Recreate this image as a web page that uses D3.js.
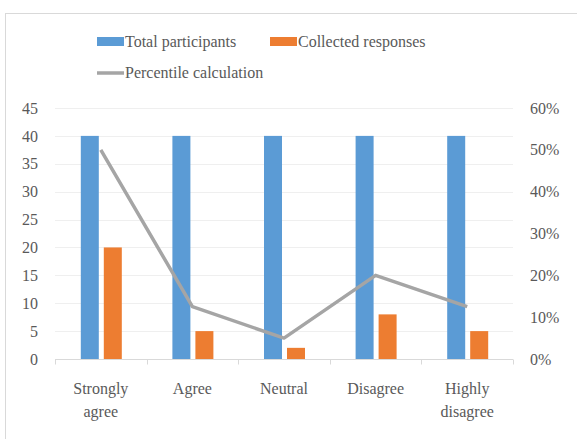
<!DOCTYPE html>
<html>
<head>
<meta charset="utf-8">
<script src="https://cdn.jsdelivr.net/npm/d3@7"></script>
<style>
  body { margin: 0; background: #fff; }
</style>
</head>
<body>
<div id="chart"></div>
<script>
// 数据
const categories = ['Strongly agree', 'Agree', 'Neutral', 'Disagree', 'Highly disagree'];
const categoryLines = [['Strongly', 'agree'], ['Agree'], ['Neutral'], ['Disagree'], ['Highly', 'disagree']];
const totalParticipants = [40, 40, 40, 40, 40];
const collectedResponses = [20, 5, 2, 8, 5];
const percentile = [0.5, 0.125, 0.05, 0.2, 0.125];
const leftTicks = [0, 5, 10, 15, 20, 25, 30, 35, 40, 45];
const rightTicks = [0, 0.1, 0.2, 0.3, 0.4, 0.5, 0.6];

const width = 577, height = 439;
const margin = {top: 108, right: 64, bottom: 80, left: 55};
const fontFamily = "Liberation Serif, DejaVu Serif, serif";

const svg = d3.select('#chart')
    .append('svg')
    .attr('width', width)
    .attr('height', height)
    .attr('font-family', fontFamily);

// 外框
svg.append('rect')
    .attr('x', 5.5).attr('y', 13.5)
    .attr('width', width - 5).attr('height', height - 13)
    .attr('fill', '#fff')
    .attr('stroke', '#d9d9d9');

const x = d3.scaleBand()
    .domain(categories)
    .range([margin.left, width - margin.right]);
const yLeft = d3.scaleLinear().domain([0, 45]).range([height - margin.bottom, margin.top]);
const yRight = d3.scaleLinear().domain([0, 0.6]).range([height - margin.bottom, margin.top]);

// 网格线
svg.append('g')
    .selectAll('line')
    .data(leftTicks.slice(1))
    .enter()
    .append('line')
    .attr('x1', margin.left).attr('x2', width - margin.right)
    .attr('y1', d => Math.round(yLeft(d)) + 0.5)
    .attr('y2', d => Math.round(yLeft(d)) + 0.5)
    .attr('stroke', '#efefef');

// 轴文字样式
const styleAxis = (g) => {
    g.attr('font-family', fontFamily).attr('font-size', 16);
    g.select('.domain').remove();
    g.selectAll('text').attr('fill', '#595959');
};

// 左轴
svg.append('g')
    .attr('transform', `translate(${margin.left - 17},0)`)
    .call(d3.axisLeft(yLeft).tickValues(leftTicks).tickSize(0).tickPadding(0))
    .call(styleAxis);

// 右轴
svg.append('g')
    .attr('transform', `translate(${width - margin.right + 17},0)`)
    .call(d3.axisRight(yRight).tickValues(rightTicks).tickFormat(d3.format('.0%')).tickSize(0).tickPadding(0))
    .call(styleAxis);

// 柱子
const barW = 18;
const bars = svg.append('g');
bars.selectAll('rect.total')
    .data(categories)
    .enter()
    .append('rect')
    .attr('class', 'total')
    .attr('x', d => x(d) + x.bandwidth() / 2 - barW - 2)
    .attr('width', barW)
    .attr('y', (d, i) => yLeft(totalParticipants[i]))
    .attr('height', (d, i) => yLeft(0) - yLeft(totalParticipants[i]))
    .attr('fill', '#5b9bd5');
bars.selectAll('rect.collected')
    .data(categories)
    .enter()
    .append('rect')
    .attr('class', 'collected')
    .attr('x', d => x(d) + x.bandwidth() / 2 + 3)
    .attr('width', barW)
    .attr('y', (d, i) => yLeft(collectedResponses[i]))
    .attr('height', (d, i) => yLeft(0) - yLeft(collectedResponses[i]))
    .attr('fill', '#ed7d31');

// 类别轴
const axisY = Math.round(yLeft(0)) + 0.5;
svg.append('line')
    .attr('x1', margin.left).attr('x2', width - margin.right)
    .attr('y1', axisY).attr('y2', axisY)
    .attr('stroke', '#d9d9d9');
svg.append('g')
    .selectAll('line')
    .data(categories.concat(['end']))
    .enter()
    .append('line')
    .attr('x1', (d, i) => Math.round(margin.left + i * x.bandwidth()) + 0.5)
    .attr('x2', (d, i) => Math.round(margin.left + i * x.bandwidth()) + 0.5)
    .attr('y1', axisY).attr('y2', axisY + 5)
    .attr('stroke', '#d9d9d9');

svg.append('g')
    .attr('font-size', 16)
    .attr('fill', '#595959')
    .selectAll('text')
    .data(categories)
    .enter()
    .append('text')
    .attr('text-anchor', 'middle')
    .attr('x', d => x(d) + x.bandwidth() / 2)
    .attr('y', 394)
    .each(function (d, i) {
        d3.select(this).selectAll('tspan')
            .data(categoryLines[i])
            .enter()
            .append('tspan')
            .attr('x', x(d) + x.bandwidth() / 2)
            .attr('dy', (t, j) => j === 0 ? 0 : 23)
            .text(t => t);
    });

// 折线
const line = d3.line()
    .x((d, i) => x(categories[i]) + x.bandwidth() / 2)
    .y(d => yRight(d));
svg.append('path')
    .datum(percentile)
    .attr('d', line)
    .attr('fill', 'none')
    .attr('stroke', '#a5a5a5')
    .attr('stroke-width', 3.5)
    .attr('stroke-linejoin', 'round');

// 图例
const legend = svg.append('g').attr('font-size', 16).attr('fill', '#595959');
legend.append('rect').attr('x', 97).attr('y', 37).attr('width', 27).attr('height', 9).attr('fill', '#5b9bd5');
legend.append('text').attr('x', 125).attr('y', 47).text('Total participants');
legend.append('rect').attr('x', 270).attr('y', 37).attr('width', 27).attr('height', 9).attr('fill', '#ed7d31');
legend.append('text').attr('x', 298).attr('y', 47).text('Collected responses');
legend.append('line').attr('x1', 97).attr('x2', 124).attr('y1', 73).attr('y2', 73)
    .attr('stroke', '#a5a5a5').attr('stroke-width', 3.5);
legend.append('text').attr('x', 125).attr('y', 78).text('Percentile calculation');
</script>
</body>
</html>
